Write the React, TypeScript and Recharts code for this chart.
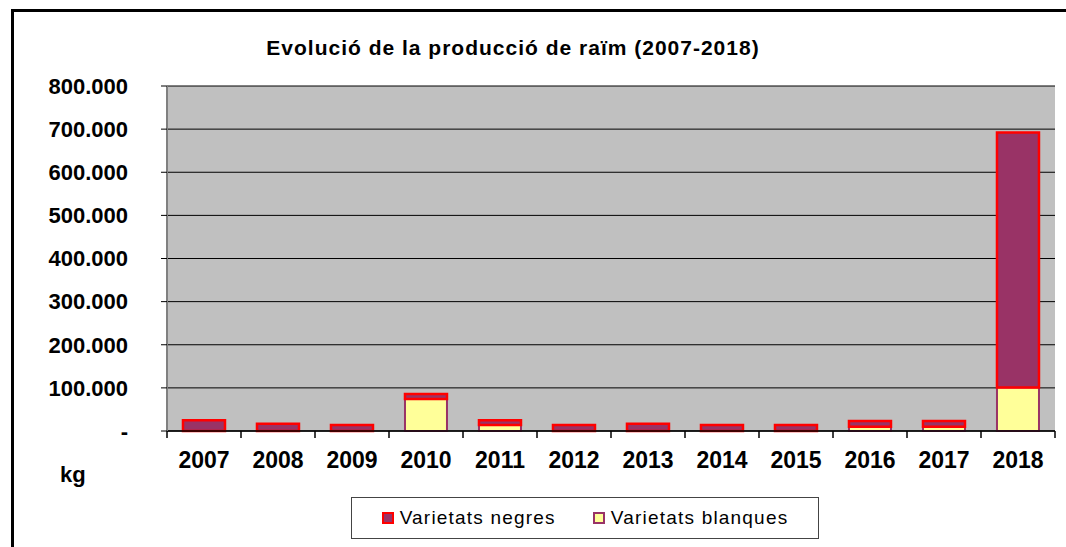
import { Bar, BarChart, CartesianGrid, XAxis, YAxis } from "recharts"

const years = ["2007", "2008", "2009", "2010", "2011", "2012", "2013", "2014", "2015", "2016", "2017", "2018"]
const blanques = [0, 0, 0, 74000, 14000, 0, 0, 0, 0, 10000, 10000, 101000]
const negres = [25000, 17000, 14000, 12000, 11000, 14000, 17000, 14000, 14000, 13000, 13000, 591000]
const yTicks = [0, 100000, 200000, 300000, 400000, 500000, 600000, 700000, 800000]

const title = "Evolució de la producció de raïm (2007-2018)"
const unitLabel = "kg"

const series = [
  { key: "negres", name: "Varietats negres", fill: "#993366", stroke: "#FF0000" },
  { key: "blanques", name: "Varietats blanques", fill: "#FFFF99", stroke: "#993366" },
]

const FONT = '"Liberation Sans", Arial, sans-serif'
const X_TICK_SIZE = 6
const X_TICK_MARGIN = 15

const data = years.map((year, i) => ({
  year,
  blanques: blanques[i],
  negres: negres[i],
}))

const formatKg = (v: number) => (v === 0 ? "-" : v.toLocaleString("de-DE"))

// category label at band centre, tick marks at band edges (Excel style)
function YearTick(props: any) {
  const { x, y, payload, index, visibleTicksCount } = props
  const half = payload?.offset ?? 0
  const axisY = y - X_TICK_SIZE - X_TICK_MARGIN
  const isLast = index === visibleTicksCount - 1
  return (
    <g>
      {half > 0 && <line x1={x - half} x2={x - half} y1={axisY} y2={axisY + 7} stroke="#000" strokeWidth={1.5} />}
      {half > 0 && isLast && (
        <line x1={x + half} x2={x + half} y1={axisY} y2={axisY + 7} stroke="#000" strokeWidth={1.5} />
      )}
      <text
        x={x}
        y={y}
        dy="0.71em"
        textAnchor="middle"
        fill="#000"
        fontSize={23}
        fontWeight="bold"
        fontFamily={FONT}
      >
        {payload.value}
      </text>
    </g>
  )
}

export default function App() {
  return (
    <div
      style={{
        position: "absolute",
        left: 0,
        top: 0,
        width: 1066,
        height: 547,
        overflow: "hidden",
        background: "#fff",
        fontFamily: FONT,
      }}
    >
      <div
        style={{
          position: "absolute",
          left: 11,
          top: 9,
          width: 1200,
          height: 700,
          border: "3px solid #000",
        }}
      />
      <div
        style={{
          position: "absolute",
          left: 0,
          width: 1026,
          top: 37,
          textAlign: "center",
          fontSize: 21,
          lineHeight: "21px",
          fontWeight: "bold",
          letterSpacing: 1,
          color: "#000",
        }}
      >
        {title}
      </div>
      <div
        style={{
          position: "absolute",
          left: 60,
          top: 464,
          fontSize: 22,
          lineHeight: "22px",
          fontWeight: "bold",
          color: "#000",
        }}
      >
        {unitLabel}
      </div>

      <div style={{ position: "absolute", left: 0, top: 0 }}>
        <BarChart
          width={1066}
          height={547}
          data={data}
          margin={{ top: 86, right: 11, bottom: 0, left: 0 }}
          barCategoryGap="21.6%"
        >
          <CartesianGrid horizontal vertical={false} stroke="#000" fill="#C0C0C0" fillOpacity={1} />
          <XAxis
            dataKey="year"
            height={116}
            tickLine={false}
            axisLine={{ stroke: "#000", strokeWidth: 1.5 }}
            tickSize={X_TICK_SIZE}
            tickMargin={X_TICK_MARGIN}
            interval={0}
            tick={<YearTick />}
          />
          <XAxis
            xAxisId="top"
            orientation="top"
            dataKey="year"
            height={0}
            tick={false}
            tickLine={false}
            axisLine={{ stroke: "#808080", strokeWidth: 2 }}
          />
          <YAxis
            width={167}
            domain={[0, 800000]}
            ticks={yTicks}
            interval={0}
            tickFormatter={formatKg}
            tickSize={6}
            tickMargin={33}
            tickLine={{ stroke: "#000" }}
            axisLine={{ stroke: "#808080", strokeWidth: 2 }}
            tick={{ fill: "#000", fontSize: 22, fontWeight: "bold", fontFamily: FONT }}
          />
          <YAxis
            yAxisId="right"
            orientation="right"
            width={0}
            tick={false}
            tickLine={false}
            axisLine={{ stroke: "#808080", strokeWidth: 2 }}
          />
          <Bar
            dataKey="blanques"
            name="Varietats blanques"
            stackId="a"
            fill="#FFFF99"
            stroke="#993366"
            strokeWidth={2}
            isAnimationActive={false}
          />
          <Bar
            dataKey="negres"
            name="Varietats negres"
            stackId="a"
            fill="#993366"
            stroke="#FF0000"
            strokeWidth={2.5}
            isAnimationActive={false}
          />
        </BarChart>
      </div>

      <div
        style={{
          position: "absolute",
          left: 351,
          top: 497,
          width: 466,
          height: 40,
          border: "1px solid #444",
          display: "flex",
          alignItems: "center",
          justifyContent: "center",
          gap: 37,
          boxSizing: "content-box",
        }}
      >
        {series.map((s) => (
          <div key={s.key} style={{ display: "flex", alignItems: "center", gap: 6 }}>
            <span
              style={{
                display: "inline-block",
                width: 8,
                height: 8,
                background: s.fill,
                border: `2px solid ${s.stroke}`,
              }}
            />
            <span style={{ fontSize: 19, letterSpacing: 1.2, color: "#000", lineHeight: "22px" }}>{s.name}</span>
          </div>
        ))}
      </div>
    </div>
  )
}
